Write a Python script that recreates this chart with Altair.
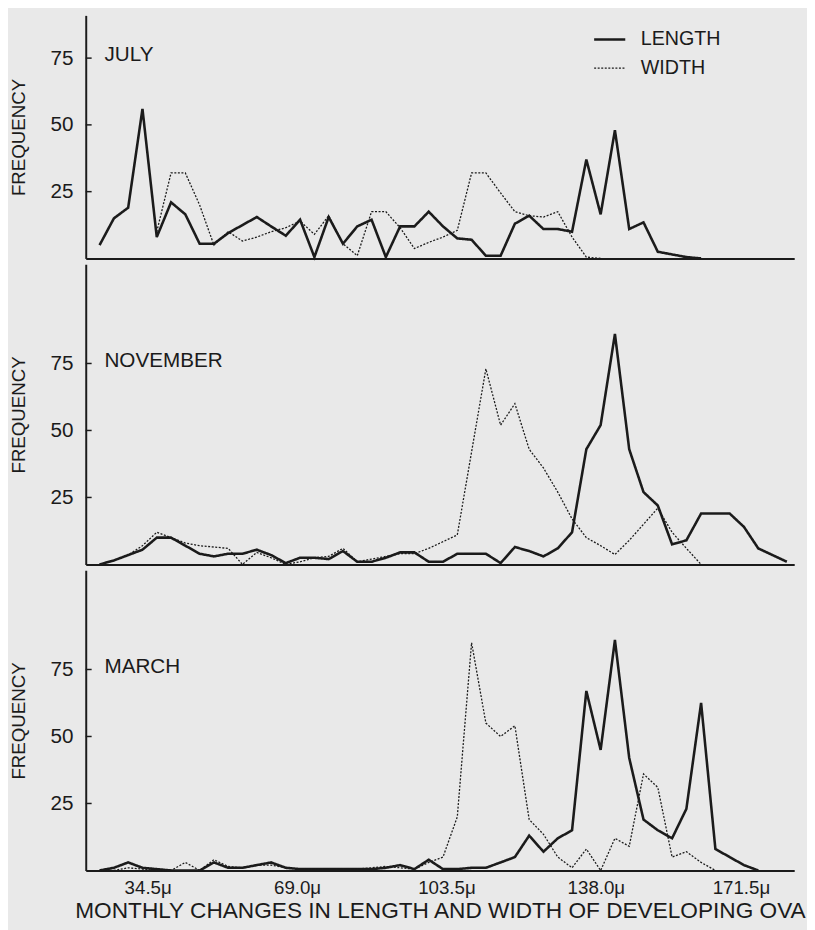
import altair as alt
import pandas as pd

# class mid-points (micra) along the x axis
MU = [23.4, 26.7, 30.0, 33.3, 36.6, 39.9, 43.2, 46.5, 49.8, 53.1,
      56.4, 59.7, 63.0, 66.4, 69.7, 73.0, 76.3, 79.6, 82.9, 86.2,
      89.5, 92.8, 96.1, 99.4, 102.7, 106.0, 109.3, 112.6, 116.0, 119.3,
      122.6, 125.9, 129.2, 132.5, 135.8, 139.1, 142.4, 145.7, 149.0, 152.3,
      155.6, 158.9, 162.3, 165.6, 168.9, 172.2, 175.5, 178.8, 182.1]

X_TICKS = [34.5, 69.0, 103.5, 138.0, 171.5]
Y_TICKS = [25, 50, 75]
SERIES = ["LENGTH", "WIDTH"]

july_length = [5, 15, 19, 56, 8, 21, 16.5, 5.5, 5.5, 9.5, 12.5, 15.5, 12, 8.5, 14.5,
               0.5, 15.5, 5.5, 12, 14.5, 0.5, 12, 12, 17.5, 12, 7.5, 7, 1, 1, 13,
               16, 11, 11, 10, 37, 16.5, 48, 11, 13.5, 2.5, 1.5, 0.5, 0]
july_width = [None, None, None, None, 10, 32, 32, 20, 5, 10, 6.5, 8, 10, 11.5, 14,
              9, 16, 5.5, 1, 17.5, 17.5, 11.5, 3.7, 6, 8, 10.5, 32, 32, 24.5, 17.5,
              16, 15.5, 17.5, 8, 0.5, 0]

nov_length = [0, 1.5, 3.5, 5.5, 10, 10, 7, 4, 3, 4, 4, 5.5, 3.5, 0.5, 2.5, 2.5, 2,
              5, 1, 1, 2.5, 4.5, 4.5, 1, 1, 4, 4, 4, 0.5, 6.5, 5, 3, 6, 12, 43,
              52, 86, 43, 27, 22, 7.5, 9, 19, 19, 19, 14, 6, 3.5, 1]
nov_width = [0, 1.5, 3.5, 7, 12, 10, 8, 7, 6.5, 6, 0, 4.5, 2.5, 0, 1, 2.5, 3, 6,
             1, 2, 3, 4, 4, 6, 8.5, 11, 42, 73, 52, 60, 43, 36, 27, 17, 10, 7,
             3.7, 9, 15, 21, 12, 6, 0]

mar_length = [0, 1, 3, 1, 0.5, 0, 0, 0, 3, 1, 1, 2, 3, 1, 0.5, 0.5, 0.5, 0.5,
              0.5, 0.5, 1, 2, 0.5, 4, 0.5, 0.5, 1, 1, 3, 5, 13, 7, 12, 15, 67,
              45, 86, 42, 19, 15, 12, 23, 62.5, 8, 5, 2, 0]
mar_width = [0, 0, 1, 0.5, 0, 0, 3, 0, 4, 1.5, 1, 2, 2, 1, 0.5, 0.5, 0.5, 0.5,
             0.5, 1, 1.5, 1, 0.5, 3, 5, 20, 85, 55, 50, 54, 19, 13.5, 5, 1, 8,
             0, 12, 9, 36, 31, 5, 7, 3, 0]

FONT = "Liberation Sans"
INK = "#1b1b1b"
BG = "#e9e9e9"
W = 720


def panel(name, length, width, height, ymax, bottom, legend):
    rows = []
    for s, vals in zip(SERIES, (length, width)):
        for x, v in zip(MU, vals):
            if v is not None:
                rows.append({"x": x, "f": v, "series": s})
    df = pd.DataFrame(rows)
    xscale = alt.Scale(domain=[20.2, 183.8], nice=False, zero=False)
    yscale = alt.Scale(domain=[0, ymax], nice=False)
    if bottom:
        xaxis = alt.Axis(values=X_TICKS, labelExpr="format(datum.value, '.1f') + 'μ'",
                         ticks=False, grid=False, labelFontSize=19, labelPadding=8,
                         labelFont=FONT, labelColor=INK, domainColor=INK, domainWidth=2,
                         title="MONTHLY CHANGES IN LENGTH AND WIDTH OF DEVELOPING OVA",
                         titleFont=FONT, titleFontSize=23, titleFontWeight="normal",
                         titleColor=INK, titlePadding=3)
    else:
        xaxis = alt.Axis(labels=False, ticks=False, grid=False, title=None,
                         domainColor=INK, domainWidth=2)
    yaxis = alt.Axis(values=Y_TICKS, ticks=False, grid=False, labelFontSize=21,
                     labelFont=FONT, labelColor=INK, labelPadding=13,
                     domainColor=INK, domainWidth=2, title="FREQUENCY",
                     titleFont=FONT, titleFontSize=19, titleFontWeight="normal",
                     titleColor=INK, titlePadding=22)
    if legend:
        leg = alt.Legend(title=None, orient="none", legendX=515, legendY=7,
                         symbolType="stroke", symbolSize=1000, symbolStrokeColor=INK,
                         labelFont=FONT, labelFontSize=20, labelColor=INK,
                         rowPadding=2, labelOffset=14)
    else:
        leg = None
    lines = alt.Chart(df).mark_line(color=INK, strokeJoin="miter").encode(
        x=alt.X("x:Q", scale=xscale, axis=xaxis),
        y=alt.Y("f:Q", scale=yscale, axis=yaxis),
        strokeDash=alt.StrokeDash("series:N", scale=alt.Scale(domain=SERIES, range=[[1, 0], [2, 1.6]]), legend=leg),
        strokeWidth=alt.StrokeWidth("series:N", scale=alt.Scale(domain=SERIES, range=[2.6, 1.3]), legend=leg),
        detail="series:N",
    )
    ticks = alt.Chart(pd.DataFrame({"f": Y_TICKS})).mark_rule(color=INK, strokeWidth=1.5).encode(
        x=alt.value(0), x2=alt.value(6), y=alt.Y("f:Q", scale=yscale, axis=yaxis))
    label = alt.Chart(pd.DataFrame({"m": [name], "f": [76]})).mark_text(
        align="left", baseline="middle", font=FONT, fontSize=21, color=INK).encode(
        x=alt.value(19), y=alt.Y("f:Q", scale=yscale, axis=yaxis), text="m:N")
    return alt.layer(lines, ticks, label).properties(width=W, height=height)


chart = alt.vconcat(
    panel("JULY", july_length, july_width, 247, 91, False, True),
    panel("NOVEMBER", nov_length, nov_width, 305, 112, False, False),
    panel("MARCH", mar_length, mar_width, 305, 112, True, False),
    spacing=0,
).resolve_scale(y="independent", strokeDash="independent", strokeWidth="independent"
).resolve_legend(strokeDash="independent", strokeWidth="independent"
).properties(background=BG, padding={"left": 1, "top": 0, "right": 0, "bottom": 0}
).configure_view(stroke=None)

chart.save("out.html", embed_options={"renderer": "svg", "actions": False})
